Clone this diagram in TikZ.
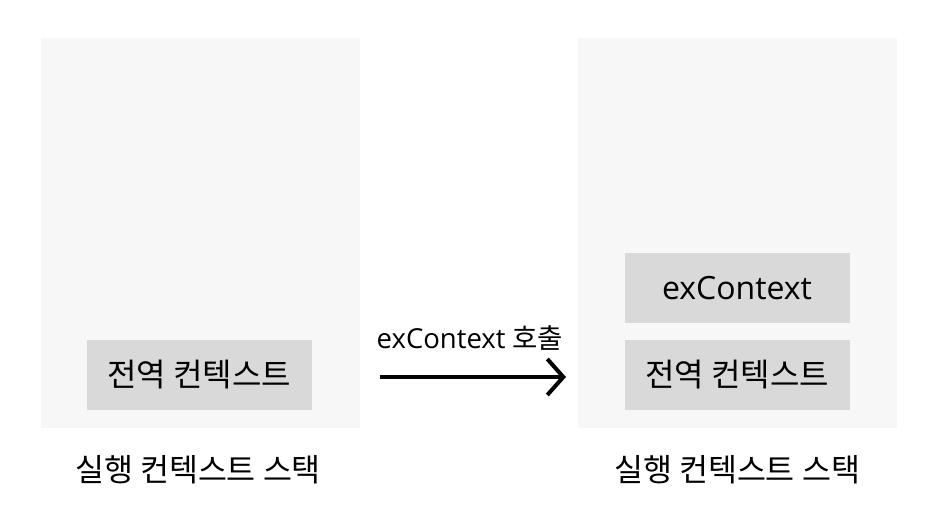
\documentclass[tikz,border=0pt]{standalone}
\usepackage{fontspec}
\setmainfont{Open Sans}
\newfontfamily\cjk{Noto Sans CJK KR}
\usetikzlibrary{arrows.meta}
\definecolor{stackbg}{HTML}{F7F7F7}
\definecolor{ctxgray}{HTML}{D9D9D9}
\tikzset{ctx/.style={fill=ctxgray,minimum width=225pt,minimum height=70pt,inner sep=0pt,font=\fontsize{32}{38}\selectfont}}
\begin{document}
\begin{tikzpicture}[x=1pt,y=-1pt]
\useasboundingbox (0,0) rectangle (936,528);
\fill[stackbg] (41,38) rectangle (360,428);
\fill[stackbg] (578,38) rectangle (897,428);
\node[ctx] (g1) at (199,375) {\cjk 전역 컨텍스트};
\node[ctx] (ex) at (737,288) {exContext};
\node[ctx] (g2) at (737,375) {\cjk 전역 컨텍스트};
\node[font=\fontsize{31.5}{38}\selectfont] (s1) at (198,470) {\cjk 실행 컨텍스트 스택};
\node[font=\fontsize{31.5}{38}\selectfont] (s2) at (737,470) {\cjk 실행 컨텍스트 스택};
\coordinate (a) at (380,377);
\coordinate (b) at (566,377);
\draw[line width=4pt,-{Straight Barb[length=16pt,width=36pt]}] (a) -- (b);
\node[font=\fontsize{27.5}{32}\selectfont] (call) at (470,338) {exContext {\cjk 호출}};
\end{tikzpicture}
\end{document}
